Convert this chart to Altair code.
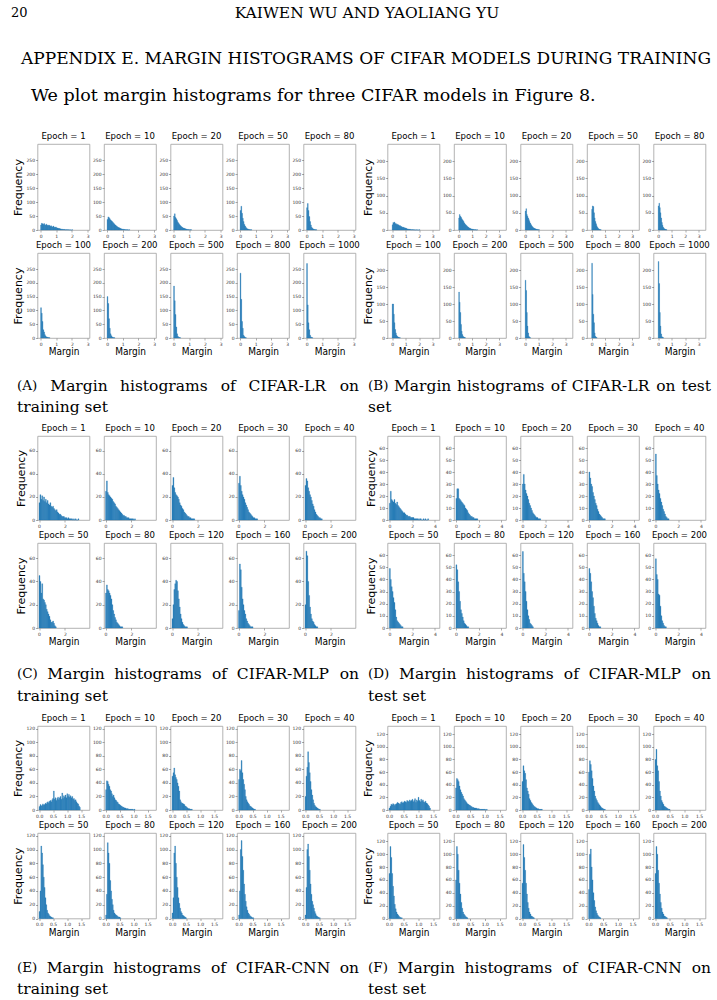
import altair as alt
import pandas as pd

# ------------------------------------------------------------------ text
PAGE_NUMBER = "20"
RUNNING_HEAD = "KAIWEN WU AND YAOLIANG YU"
SECTION_TITLE = "APPENDIX E. MARGIN HISTOGRAMS OF CIFAR MODELS DURING TRAINING"
INTRO = "We plot margin histograms for three CIFAR models in Figure 8."
CAPTION_TAGS = ["(A)", "(B)", "(C)", "(D)", "(E)", "(F)"]
CAPTION_LINE1 = [
    "Margin histograms of CIFAR-LR on",
    "Margin histograms of CIFAR-LR on test",
    "Margin histograms of CIFAR-MLP on",
    "Margin histograms of CIFAR-MLP on",
    "Margin histograms of CIFAR-CNN on",
    "Margin histograms of CIFAR-CNN on",
]
CAPTION_LINE2 = ["training set", "set", "training set", "test set", "training set", "test set"]

# ------------------------------------------------------------------ epochs
LR_EPOCHS = [1, 10, 20, 50, 80, 100, 200, 500, 800, 1000]
MLP_EPOCHS = [1, 10, 20, 30, 40, 50, 80, 120, 160, 200]
CNN_EPOCHS = [1, 10, 20, 30, 40, 50, 80, 120, 160, 200]

# ------------------------------------------------------------------ histogram counts
# each list holds consecutive bin counts starting at margin 0
LR_BIN = 0.05
LR_TRAIN_COUNTS = [
    [18, 24, 22, 20, 23, 19, 17, 21, 16, 18, 15, 17, 13, 15, 12, 11, 14, 10, 9, 11, 8, 7, 6, 5, 5, 4, 3, 3, 2, 2, 2, 1, 1, 1, 1, 1, 0, 1, 0, 0, 1],
    [38, 47, 44, 40, 36, 33, 30, 27, 24, 21, 18, 15, 13, 11, 9, 8, 6, 5, 4, 3, 3, 2, 2, 1, 1, 1, 1, 0, 1],
    [50, 58, 45, 40, 34, 28, 24, 20, 16, 13, 11, 9, 7, 6, 5, 4, 3, 2, 2, 1, 1, 1, 1],
    [70, 85, 60, 42, 30, 20, 14, 9, 6, 4, 3, 2, 1, 1, 1],
    [80, 95, 70, 48, 30, 18, 10, 6, 4, 2, 2, 1, 1],
    [110, 90, 60, 30, 22, 12, 7, 4, 3, 2, 1, 1],
    [150, 125, 70, 35, 15, 8, 4, 2, 1, 1],
    [188, 135, 85, 40, 15, 6, 3, 2, 1],
    [235, 140, 60, 35, 10, 5, 2, 1],
    [270, 120, 55, 30, 10, 4, 2, 1],
]
LR_TEST_COUNTS = [
    [15, 22, 20, 23, 18, 19, 16, 17, 14, 15, 12, 13, 11, 10, 9, 8, 8, 7, 6, 6, 5, 4, 3, 3, 2, 2, 2, 1, 1, 1, 1, 1, 0, 1, 0, 0, 1, 0, 0, 0, 1],
    [35, 45, 40, 37, 33, 30, 27, 24, 20, 17, 15, 13, 11, 9, 8, 6, 5, 4, 3, 3, 2, 2, 1, 1, 1, 1, 0, 1],
    [55, 62, 45, 40, 35, 30, 25, 20, 16, 13, 10, 8, 6, 5, 4, 3, 2, 2, 1, 1, 1],
    [60, 70, 68, 50, 35, 25, 18, 12, 8, 5, 3, 2, 1, 1],
    [70, 78, 65, 50, 35, 22, 14, 8, 5, 3, 2, 1, 1],
    [100, 100, 70, 45, 25, 15, 8, 5, 3, 2, 1, 1],
    [135, 105, 75, 40, 20, 10, 5, 3, 2, 1],
    [170, 140, 75, 35, 15, 5, 2, 1],
    [220, 128, 70, 45, 15, 5, 2, 1],
    [225, 160, 75, 35, 12, 4, 2, 1],
]

MLP_TRAIN_BIN = 0.07
MLP_TRAIN_COUNTS = [
    [15, 22, 18, 21, 17, 20, 16, 18, 15, 17, 14, 13, 15, 12, 11, 12, 10, 9, 8, 9, 7, 6, 5, 5, 4, 3, 3, 3, 2, 2, 2, 1, 2, 1, 1, 1, 1, 0, 1, 0, 1, 0, 0, 1],
    [25, 34, 24, 22, 21, 20, 19, 18, 16, 15, 14, 12, 11, 10, 9, 8, 7, 6, 5, 4, 4, 3, 3, 2, 2, 2, 1, 1, 1, 1, 1, 0, 1],
    [30, 37, 28, 24, 22, 21, 20, 18, 15, 13, 12, 10, 9, 7, 6, 5, 4, 3, 3, 2, 2, 1, 1, 1, 1],
    [32, 38, 30, 25, 22, 20, 18, 15, 13, 11, 9, 7, 6, 5, 4, 3, 2, 2, 1, 1, 1],
    [30, 36, 34, 28, 25, 22, 20, 17, 14, 12, 9, 7, 5, 4, 3, 2, 2, 1, 1],
    [45, 40, 30, 38, 25, 24, 22, 20, 16, 14, 12, 10, 7, 5, 5, 6, 4, 2, 1],
    [30, 37, 33, 32, 30, 28, 25, 20, 15, 12, 9, 7, 5, 4, 3, 2, 1, 1, 1],
    [8, 20, 33, 38, 41, 40, 32, 25, 18, 12, 8, 5, 3, 2, 1, 1, 1],
    [15, 55, 50, 35, 25, 20, 15, 12, 8, 6, 4, 3, 2, 1, 1, 1],
    [20, 66, 62, 40, 28, 18, 12, 8, 6, 5, 3, 2, 1, 1],
]

MLP_TEST_BIN = 0.08
MLP_TEST_COUNTS = [
    [14, 24, 17, 16, 15, 17, 14, 13, 15, 12, 11, 10, 9, 8, 7, 6, 6, 5, 4, 4, 3, 3, 3, 2, 2, 2, 2, 1, 1, 1, 1, 1, 0, 1, 1, 0, 0, 1, 0, 1, 0, 0, 1],
    [18, 26, 26, 18, 17, 16, 15, 14, 13, 12, 10, 9, 8, 6, 5, 4, 3, 3, 2, 2, 1, 1, 1, 1],
    [30, 38, 30, 25, 22, 20, 17, 14, 12, 10, 8, 6, 5, 4, 3, 2, 2, 1, 1, 1],
    [40, 35, 30, 28, 23, 20, 17, 14, 12, 9, 7, 5, 4, 3, 2, 1, 1, 1],
    [55, 37, 30, 25, 22, 18, 15, 12, 9, 7, 5, 3, 2, 1, 1],
    [49, 40, 34, 30, 25, 21, 15, 9, 6, 5, 4, 3, 2, 1, 1],
    [52, 48, 38, 30, 22, 15, 12, 9, 6, 4, 3, 2, 1, 1],
    [63, 45, 38, 30, 22, 15, 10, 7, 4, 3, 2, 1],
    [49, 45, 38, 30, 25, 18, 12, 8, 6, 4, 2, 1, 1],
    [57, 44, 40, 28, 27, 18, 10, 6, 4, 2, 1, 1],
]

CNN_BIN = 0.03
CNN_TRAIN_COUNTS = [
    [5, 8, 6, 7, 9, 7, 8, 10, 9, 11, 12, 10, 13, 14, 12, 15, 17, 28, 16, 18, 14, 17, 19, 15, 18, 20, 16, 25, 17, 21, 19, 22, 18, 24, 20, 23, 19, 21, 18, 20, 16, 17, 14, 15, 12, 10, 9, 6, 4],
    [30, 43, 42, 38, 35, 30, 28, 24, 20, 22, 18, 15, 14, 12, 11, 9, 8, 7, 6, 5, 4, 4, 3, 3, 2, 2, 2, 1, 1, 1, 1, 1, 1, 0, 1],
    [50, 55, 62, 52, 48, 45, 40, 35, 28, 15, 12, 10, 10, 9, 8, 6, 5, 4, 3, 2, 2, 1, 1, 1],
    [45, 60, 58, 73, 55, 45, 38, 30, 20, 15, 12, 10, 8, 6, 5, 4, 3, 2, 1, 1],
    [20, 50, 63, 86, 70, 55, 42, 30, 22, 15, 10, 7, 5, 4, 3, 2, 1, 1],
    [10, 40, 105, 95, 78, 60, 45, 30, 20, 12, 8, 6, 4, 3, 2, 1, 1],
    [5, 35, 110, 95, 80, 55, 40, 28, 20, 12, 8, 6, 5, 4, 3, 2, 2, 1],
    [8, 30, 95, 105, 80, 60, 45, 30, 22, 15, 10, 8, 5, 4, 3, 2, 1],
    [5, 40, 100, 113, 90, 70, 50, 35, 25, 17, 12, 8, 6, 4, 3, 2, 1, 1],
    [5, 45, 100, 108, 90, 70, 50, 35, 25, 20, 15, 10, 7, 4, 3, 2, 1, 1],
]
CNN_TEST_COUNTS = [
    [3, 6, 9, 8, 10, 9, 7, 9, 10, 12, 11, 10, 9, 12, 13, 11, 12, 14, 13, 12, 15, 14, 13, 16, 14, 15, 17, 13, 15, 18, 12, 16, 14, 20, 15, 13, 17, 14, 16, 13, 12, 14, 11, 10, 8, 6, 3],
    [35, 50, 48, 45, 38, 32, 28, 25, 22, 18, 16, 14, 12, 10, 9, 8, 7, 6, 5, 4, 4, 3, 3, 3, 2, 2, 2, 1, 1, 1, 1, 1, 1, 1, 0, 1],
    [45, 70, 62, 58, 48, 35, 30, 25, 18, 15, 12, 10, 8, 6, 5, 4, 3, 2, 2, 1, 1, 1, 1],
    [60, 78, 72, 62, 50, 38, 30, 22, 18, 15, 12, 10, 8, 6, 4, 3, 2, 1, 1],
    [80, 96, 70, 62, 45, 30, 22, 15, 12, 9, 6, 5, 4, 3, 2, 1, 1],
    [70, 112, 95, 70, 50, 35, 22, 15, 10, 7, 5, 3, 2, 1, 1],
    [60, 112, 100, 75, 55, 38, 25, 16, 10, 7, 5, 3, 2, 1],
    [55, 115, 95, 75, 55, 38, 25, 16, 10, 7, 4, 3, 2, 1],
    [45, 100, 108, 80, 60, 40, 28, 18, 12, 8, 5, 3, 2, 1],
    [70, 112, 100, 75, 55, 38, 25, 16, 10, 7, 4, 3, 2, 1],
]

# ------------------------------------------------------------------ styling
BLUE = "#1f77b4"
SANS_NARROW = "'DejaVu Sans Condensed', 'Liberation Sans Narrow', 'DejaVu Sans'"
SANS = "DejaVu Sans"
SERIF = "DejaVu Serif"
PANEL_W = 52
GAP = 14.5          # horizontal gap between neighbouring panels
ROW_GAP = 23        # vertical gap between grid rows
N_COLS = 12         # lead spacer, 5 panels, middle spacer, 5 panels
LEAD_W = 36 - GAP
MID_W = 386 - 354 - 2 * GAP
TINY = 0.01         # size of filler cells that must not widen their column
NO_FRAME = alt.ViewBackground(stroke="transparent")
CAPTION_SIZE = 15.5
TAG_SIZE = 13.5

# approximate advance widths (em) of DejaVu Serif, used to justify caption lines
SERIF_EM = {
    " ": 0.318, "(": 0.390, ")": 0.390, "-": 0.338,
    "A": 0.745, "B": 0.705, "C": 0.745, "D": 0.790, "E": 0.710, "F": 0.680,
    "I": 0.400, "L": 0.665, "M": 1.000, "N": 0.845, "P": 0.685, "R": 0.745,
    "a": 0.596, "c": 0.562, "e": 0.593, "f": 0.373, "g": 0.640, "h": 0.644,
    "i": 0.321, "l": 0.321, "m": 0.973, "n": 0.644, "o": 0.603, "r": 0.479,
    "s": 0.513, "t": 0.400,
}


def text_width(s, size):
    return sum(SERIF_EM.get(ch, 0.6) for ch in s) * size


def blank(w=TINY, h=TINY):
    return (
        alt.Chart(pd.DataFrame({"t": [""]}))
        .mark_text(fontSize=1)
        .encode(text="t:N", x=alt.value(0), y=alt.value(0))
        .properties(width=w, height=h, view=NO_FRAME)
    )


def histogram(counts, bin_w, epoch, spec, height, show_y_title, show_x_title):
    df = pd.DataFrame({
        "lo": [i * bin_w for i in range(len(counts))],
        "hi": [(i + 1) * bin_w for i in range(len(counts))],
        "count": counts,
    })
    common = dict(
        domain=False, grid=False, tickSize=2, tickWidth=0.5, tickColor="#555",
        labelFontSize=4.5, labelColor="#333", labelFont=SANS, labelPadding=1,
        labelOverlap=False, labelFlush=False,
    )
    x_axis = alt.Axis(
        values=spec["xticks"], format=spec["xfmt"],
        title="Margin" if show_x_title else "",
        titleFont=SANS_NARROW, titleFontSize=10, titleFontWeight="normal",
        titleColor="black", titlePadding=1, **common,
    )
    y_axis = alt.Axis(
        values=spec["yticks"], format="d",
        title="Frequency" if show_y_title else "",
        titleFont=SANS, titleFontSize=11, titleFontWeight="normal",
        titleColor="black", titlePadding=2, **common,
    )
    return (
        alt.Chart(df, title=alt.TitleParams(
            f"Epoch = {epoch}", font=SANS_NARROW, fontSize=9.5,
            fontWeight="normal", color="black", offset=3.5))
        .mark_rect(color=BLUE, stroke=BLUE, strokeWidth=0.3)
        .encode(
            x=alt.X("lo:Q", scale=alt.Scale(domain=spec["xdom"], nice=False, zero=False), axis=x_axis),
            x2="hi:Q",
            y=alt.Y("count:Q", scale=alt.Scale(domain=spec["ydom"], nice=False), axis=y_axis),
            y2=alt.datum(0),
        )
        .properties(width=PANEL_W, height=height,
                    view=alt.ViewBackground(stroke="#a0a0a0", strokeWidth=0.8))
    )


SPECS = {
    "lr_train": dict(xdom=[-0.2, 3.12], xticks=[0, 1, 2, 3], xfmt="d", ydom=[0, 308], yticks=[0, 50, 100, 150, 200, 250]),
    "lr_test": dict(xdom=[-0.35, 3.5], xticks=[0, 1, 2, 3], xfmt="d", ydom=[0, 250], yticks=[0, 50, 100, 150, 200]),
    "mlp_train": dict(xdom=[-0.12, 3.9], xticks=[0, 2], xfmt="d", ydom=[0, 73], yticks=[0, 20, 40, 60]),
    "mlp_test": dict(xdom=[-0.17, 4.4], xticks=[0, 2, 4], xfmt="d", ydom=[0, 70], yticks=[0, 10, 20, 30, 40, 50, 60]),
    "cnn_train": dict(xdom=[-0.06, 1.8], xticks=[0, 0.5, 1.0, 1.5], xfmt=".1f", ydom=[0, 124], yticks=[0, 20, 40, 60, 80, 100, 120]),
    "cnn_test": dict(xdom=[-0.055, 1.72], xticks=[0, 0.5, 1.0, 1.5], xfmt=".1f", ydom=[0, 133], yticks=[0, 20, 40, 60, 80, 100, 120]),
}


def panel_row(left, right, r, height):
    """One grid row: five panels of the left subfigure, five of the right one."""
    cells = [blank(LEAD_W)]
    for c in range(5):
        k = r * 5 + c
        cells.append(histogram(left[0][k], left[1], left[2][k], left[3], height, c == 0, r == 1))
    cells.append(blank(MID_W))
    for c in range(5):
        k = r * 5 + c
        cells.append(histogram(right[0][k], right[1], right[2][k], right[3], height, c == 0, r == 1))
    return cells


def text_layer(s, x, y, size, align="left", font=SERIF):
    return (
        alt.Chart(pd.DataFrame({"t": [s]}))
        .mark_text(font=font, fontSize=size, align=align, baseline="middle", color="black")
        .encode(text="t:N", x=alt.value(x), y=alt.value(y))
    )


def justified_line(tag, text, x0, x1, y):
    """Caption first line set flush on both sides, word by word."""
    words = [(tag, TAG_SIZE)] + [(w, CAPTION_SIZE) for w in text.split()]
    widths = [text_width(w, s) for w, s in words]
    gap = (x1 - x0 - sum(widths)) / (len(words) - 1)
    layers, x = [], x0
    for (w, s), wd in zip(words[:-1], widths[:-1]):
        layers.append(text_layer(w, x, y, s))
        x += wd + gap
    w, s = words[-1]
    layers.append(text_layer(w, x1, y, s, align="right"))
    return layers


def text_row(layers, height):
    # the text sits in the narrow first column and runs across the whole row
    chart = alt.layer(*layers).properties(width=LEAD_W, height=height, view=NO_FRAME)
    return [chart] + [blank() for _ in range(N_COLS - 1)]


def caption_row(i_left, i_right, y1, y2, height):
    layers = []
    for idx, x0, x1 in ((i_left, 16, 358), (i_right, 367, 710)):
        layers += justified_line(CAPTION_TAGS[idx], CAPTION_LINE1[idx], x0, x1, y1)
        layers.append(text_layer(CAPTION_LINE2[idx], x0, y2, CAPTION_SIZE))
    return text_row(layers, height)


header_row = text_row([
    text_layer(PAGE_NUMBER, 10, 11, 13),
    text_layer(RUNNING_HEAD, 366, 11, 15.5, align="center"),
    text_layer(SECTION_TITLE, 20, 57, 17),
    text_layer(INTRO, 30, 94, 17.5),
], 141.5 - ROW_GAP)

LR_TRAIN = (LR_TRAIN_COUNTS, LR_BIN, LR_EPOCHS, SPECS["lr_train"])
LR_TEST = (LR_TEST_COUNTS, LR_BIN, LR_EPOCHS, SPECS["lr_test"])
MLP_TRAIN = (MLP_TRAIN_COUNTS, MLP_TRAIN_BIN, MLP_EPOCHS, SPECS["mlp_train"])
MLP_TEST = (MLP_TEST_COUNTS, MLP_TEST_BIN, MLP_EPOCHS, SPECS["mlp_test"])
CNN_TRAIN = (CNN_TRAIN_COUNTS, CNN_BIN, CNN_EPOCHS, SPECS["cnn_train"])
CNN_TEST = (CNN_TEST_COUNTS, CNN_BIN, CNN_EPOCHS, SPECS["cnn_test"])

cells = (
    header_row
    + panel_row(LR_TRAIN, LR_TEST, 0, 86)
    + panel_row(LR_TRAIN, LR_TEST, 1, 85)
    + caption_row(0, 1, 383 - 358.5, 404 - 358.5, 433.3 - ROW_GAP - 358.5)
    + panel_row(MLP_TRAIN, MLP_TEST, 0, 84)
    + panel_row(MLP_TRAIN, MLP_TEST, 1, 85)
    + caption_row(2, 3, 671 - 648.3, 693 - 648.3, 723.3 - ROW_GAP - 648.3)
    + panel_row(CNN_TRAIN, CNN_TEST, 0, 84)
    + panel_row(CNN_TRAIN, CNN_TEST, 1, 85.5)
    + caption_row(4, 5, 965 - 938.8, 986 - 938.8, 58)
)

chart = alt.concat(
    *cells,
    columns=N_COLS,
    spacing={"row": ROW_GAP, "column": GAP},
    align="each",
    bounds="flush",
).properties(padding=0, background="white")

chart.save("out.html", embed_options={"renderer": "svg", "actions": False})
